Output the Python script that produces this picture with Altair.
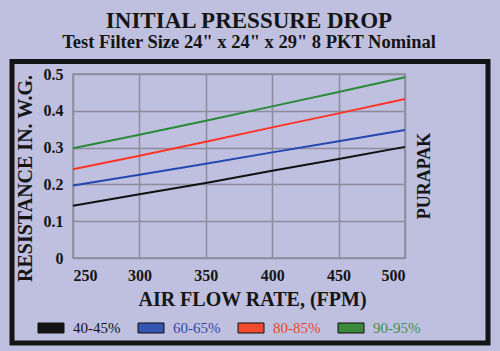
import altair as alt
import pandas as pd

# ---- data ----
flow = [250, 300, 350, 400, 450, 500]
series = ["40-45%", "60-65%", "80-85%", "90-95%"]
vals_40 = [0.142, 0.173, 0.204, 0.237, 0.269, 0.302]
vals_60 = [0.197, 0.226, 0.256, 0.287, 0.317, 0.348]
vals_80 = [0.241, 0.278, 0.316, 0.355, 0.393, 0.432]
vals_90 = [0.298, 0.335, 0.373, 0.412, 0.451, 0.491]
y_ticks = [0, 0.1, 0.2, 0.3, 0.4, 0.5]
x_ticks = [250, 300, 350, 400, 450, 500]

line_colors = ["#111111", "#2447b0", "#ff3526", "#2b8a3a"]
swatch_colors = ["#141414", "#3456b2", "#f04a30", "#3a8a3a"]
text_colors = ["#111111", "#3347a8", "#e8452e", "#3f8f46"]

FONT = "Liberation Serif"
BG = "#bfbfe0"
GRID = "#8c8c9c"

rows = []
for s, vals in zip(series, [vals_40, vals_60, vals_80, vals_90]):
    for f, v in zip(flow, vals):
        rows.append({"flow": f, "res": v, "series": s})
df = pd.DataFrame(rows)

legend_df = pd.DataFrame({"series": series, "fill": swatch_colors, "tcolor": text_colors})
one = pd.DataFrame({"k": [0]})

frame = alt.Chart(one).mark_rect(fillOpacity=0, stroke="#141414", strokeWidth=5).encode(
    x=alt.value(-61), x2=alt.value(415), y=alt.value(-12.5), y2=alt.value(269)
)

lines = alt.Chart(df).mark_line(strokeWidth=2).encode(
    x=alt.X("flow:Q", scale=alt.Scale(domain=[250, 500], nice=False, zero=False),
            axis=alt.Axis(values=x_ticks, title="AIR FLOW RATE, (FPM)", titleX=179, titleY=47,
                          titleBaseline="alphabetic", titleAlign="center")),
    y=alt.Y("res:Q", scale=alt.Scale(domain=[0, 0.5], nice=False),
            axis=alt.Axis(values=y_ticks, format="~g", title="RESISTANCE IN. W.G.",
                          titleX=-42, titleY=104, titleAngle=270,
                          titleBaseline="alphabetic", titleAlign="center")),
    color=alt.Color("series:N", scale=alt.Scale(domain=series, range=line_colors), legend=None),
)

purapak = alt.Chart(one).mark_text(
    text="PURAPAK", angle=270, font=FONT, fontSize=18, fontWeight="bold", color="#151515",
    align="center", baseline="middle"
).encode(x=alt.value(352), y=alt.value(102))

leg_scale = alt.Scale(type="point", domain=series, range=[-22, 278], padding=0)
swatches = alt.Chart(legend_df).mark_point(
    shape="M-1,-0.385H1V0.385H-1Z", size=676, filled=True, opacity=1,
    stroke="#111111", strokeWidth=1
).encode(
    x=alt.X("series:N", scale=leg_scale, axis=None),
    y=alt.value(254),
    fill=alt.Fill("fill:N", scale=None),
)
leg_text = alt.Chart(legend_df).mark_text(
    align="left", baseline="middle", dx=22, font=FONT, fontSize=15
).encode(
    x=alt.X("series:N", scale=leg_scale, axis=None),
    y=alt.value(254),
    text="series:N",
    color=alt.Color("tcolor:N", scale=None),
)

chart = alt.layer(frame, lines, purapak, swatches, leg_text).resolve_scale(
    x="independent"
).properties(
    width=332, height=184,
    autosize="none",
    padding={"left": 73, "top": 74, "right": 95, "bottom": 93},
    background=BG,
    title=alt.TitleParams(
        text="INITIAL PRESSURE DROP",
        subtitle='Test Filter Size 24" x 24" x 29" 8 PKT Nominal',
        font=FONT, fontSize=23, fontWeight="bold", color="#151515",
        subtitleFont=FONT, subtitleFontSize=18.5, subtitleFontWeight="bold",
        subtitleColor="#151515", subtitlePadding=0,
        anchor="middle", frame="group", dx=10, offset=8,
    ),
).configure_view(
    stroke=GRID, strokeWidth=1.5
).configure_axis(
    grid=True, gridColor=GRID, gridWidth=1.5, domain=False, ticks=False,
    labelFont=FONT, labelFontSize=16, labelFontWeight="bold", labelColor="#151515",
    titleFont=FONT, titleFontSize=20, titleFontWeight="bold", titleColor="#151515",
).configure_axisX(
    labelPadding=9, labelBaseline="top"
).configure_axisY(
    labelPadding=10
)

chart.save("out.html", embed_options={"renderer": "svg", "actions": False})
